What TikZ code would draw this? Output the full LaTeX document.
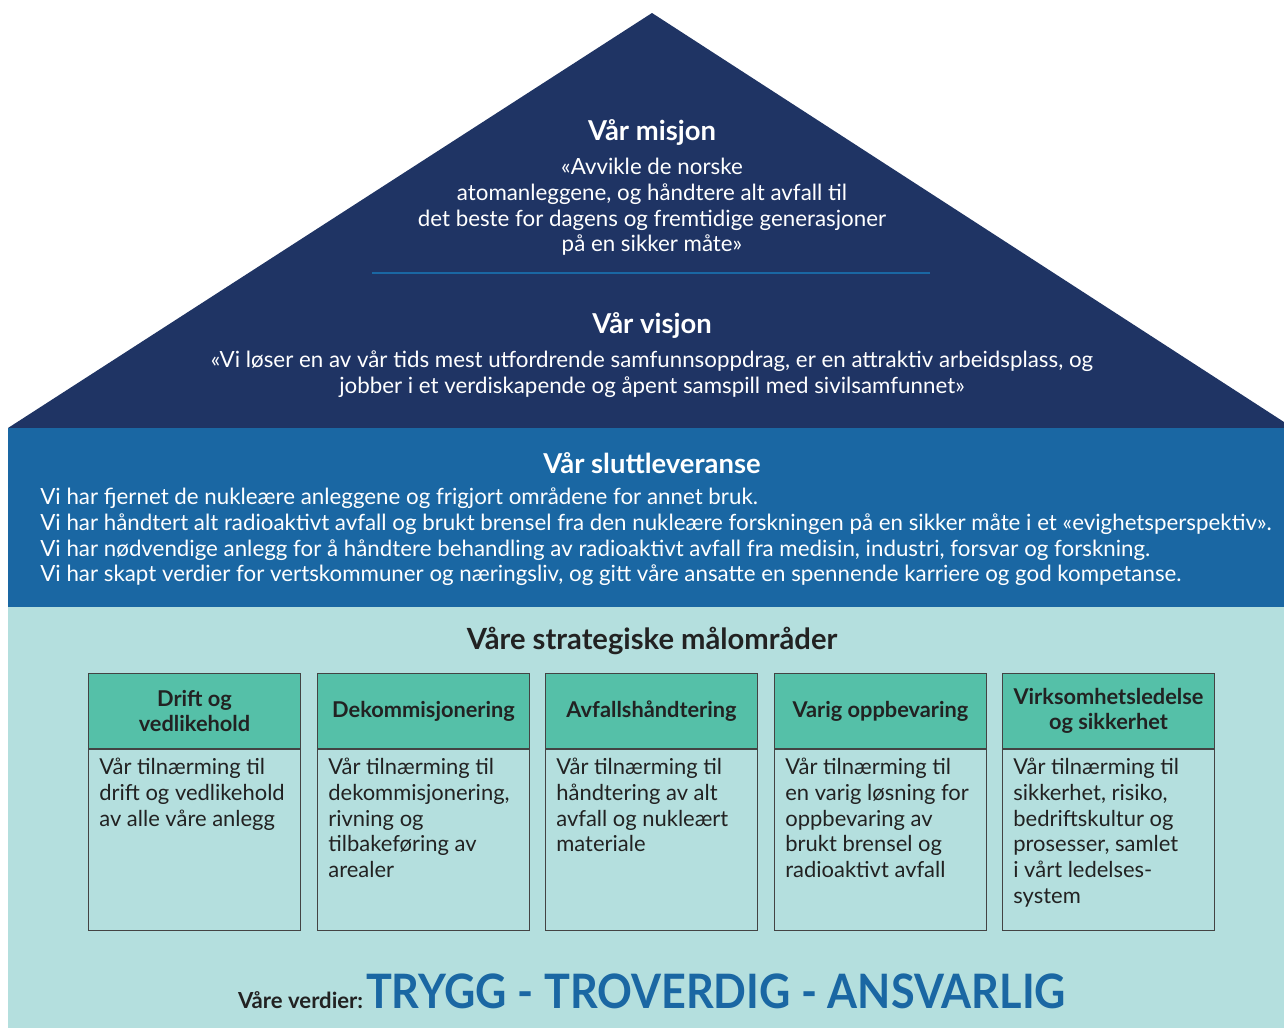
\documentclass[tikz,border=0pt]{standalone}
\usepackage{fontspec}
\setmainfont{Lato}
\usepackage{graphicx}
\usepackage{xcolor}
\definecolor{ksNavy}{HTML}{1F3464}
\definecolor{ksBlue}{HTML}{1A67A3}
\definecolor{ksMint}{HTML}{B4DFDE}
\definecolor{ksGreen}{HTML}{55C0A8}
\definecolor{ksInk}{HTML}{222222}
\usepackage{tikz}

\tikzset{
  roofhead/.style={font=\fontsize{15.6}{18}\selectfont\bfseries, text=white, inner sep=0pt},
  rooftext/.style={font=\fontsize{12.7}{14.6}\selectfont, text=white, inner sep=0pt},
  goalhead/.style={draw=ksInk!85, fill=ksGreen, line width=0.6pt, minimum width=4.24cm,
    minimum height=1.5cm, inner sep=0pt, align=center, text=ksInk,
    font=\fontsize{12.4}{14.2}\selectfont\bfseries},
  goalcard/.style={draw=ksInk!85, line width=0.6pt, minimum width=4.24cm,
    minimum height=3.62cm, inner sep=0pt},
  goalnote/.style={anchor=north west, inner sep=0pt, align=left, text=ksInk,
    font=\fontsize{12.5}{14.6}\selectfont},
}

\begin{document}
\begin{tikzpicture}[x=0.02cm, y=-0.02cm]
  \useasboundingbox (0,0) rectangle (1284,1028);
  \fill[white] (0,0) rectangle (1284,1028);

  % ---------------- the house: roof, band, floor ----------------
  \fill[ksNavy] (8,428) -- (652,13) -- (1284,422) -- (1284,428) -- cycle;
  \fill[ksBlue] (8,428) rectangle (1284,607);
  \fill[ksMint] (8,607) rectangle (1284,1028);

  % ---------------- mission and vision ----------------
  \node[roofhead] (misjon) at (652,132) {Vår misjon};
  \node[rooftext, align=center] (misjontekst) at (652,207)
    {«Avvikle de norske\\atomanleggene, og håndtere alt avfall til\\det beste for dagens og fremtidige generasjoner\\på en sikker måte»};
  \draw[ksBlue, line width=1pt] (372,273) -- (930,273);
  \node[roofhead] (visjon) at (652,325) {Vår visjon};
  \node[rooftext, align=center] (visjontekst) at (652,374)
    {«Vi løser en av vår tids mest utfordrende samfunnsoppdrag, er en attraktiv arbeidsplass, og\\jobber i et verdiskapende og åpent samspill med sivilsamfunnet»};

  % ---------------- the end delivery ----------------
  \node[roofhead] (slutt) at (652,463) {Vår sluttleveranse};
  \node[rooftext, align=left, anchor=west] (sluttekst) at (40,537)
    {Vi har fjernet de nukleære anleggene og frigjort områdene for annet bruk.\\
     Vi har håndtert alt radioaktivt avfall og brukt brensel fra den nukleære forskningen på en sikker måte i et «evighetsperspektiv».\\
     Vi har nødvendige anlegg for å håndtere behandling av radioaktivt avfall fra medisin, industri, forsvar og forskning.\\
     Vi har skapt verdier for vertskommuner og næringsliv, og gitt våre ansatte en spennende karriere og god kompetanse.};

  % ---------------- the five goal areas ----------------
  \node[roofhead, text=ksInk, font=\fontsize{16.6}{18}\selectfont\bfseries] (maal) at (652,641) {Våre strategiske målområder};
  \foreach \i/\x/\head/\body in {
      1/88/{Drift og\\vedlikehold}/{Vår tilnærming til\\drift og vedlikehold\\av alle våre anlegg},
      2/317/{Dekommisjonering}/{Vår tilnærming til\\dekommisjonering,\\rivning og\\tilbakeføring av\\arealer},
      3/545/{Avfallshåndtering}/{Vår tilnærming til\\håndtering av alt\\avfall og nukleært\\materiale},
      4/774/{Varig oppbevaring}/{Vår tilnærming til\\en varig løsning for\\oppbevaring av\\brukt brensel og\\radioaktivt avfall},
      5/1002/{Virksomhetsledelse\\og sikkerhet}/{Vår tilnærming til\\sikkerhet, risiko,\\bedriftskultur og\\prosesser, samlet\\i vårt ledelses-\\system}} {
    \node[goalhead, anchor=north west] (head\i) at (\x,673) {\head};
    \node[goalcard, anchor=north] (card\i) at (head\i.south) {};
    \node[goalnote] (note\i) at (\x+11,758) {\body};
  }

  % ---------------- values ----------------
  \node[anchor=base, inner sep=0pt, text=ksInk] (verdier) at (652,1008)
    {{\fontsize{12.6}{14}\selectfont\bfseries Våre verdier:}\,\scalebox{0.91}[1]{\fontsize{27}{30}\selectfont\bfseries\color{ksBlue}TRYGG - TROVERDIG - ANSVARLIG}};
\end{tikzpicture}
\end{document}
